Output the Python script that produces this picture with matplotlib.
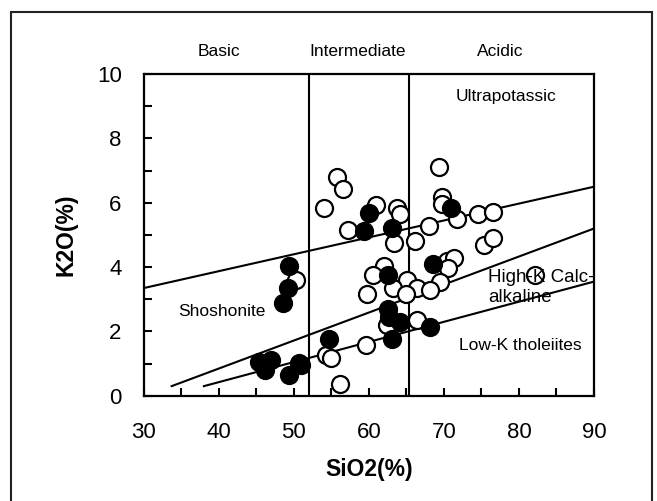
import matplotlib.pyplot as plt
from matplotlib.patches import Rectangle
from matplotlib.ticker import MultipleLocator

plt.rcParams['font.family'] = ['Liberation Sans', 'DejaVu Sans']

# filled (black) samples
filled_sio2 = [49.4, 49.2, 48.5, 45.4, 47.0, 46.1, 49.4, 50.7, 46.3, 50.9,
               54.7, 60.0, 59.3, 63.1, 70.9, 68.6, 62.5, 62.6, 62.7, 64.2,
               68.2, 63.1]
filled_k2o = [4.03, 3.34, 2.87, 1.06, 1.11, 0.80, 0.64, 1.01, 1.00, 0.95,
              1.78, 5.69, 5.12, 5.23, 5.83, 4.09, 3.75, 2.69, 2.46, 2.30,
              2.15, 1.78]

# open samples
open_sio2 = [50.3, 54.0, 55.7, 56.6, 61.0, 57.2, 63.8, 64.2, 63.4, 66.1,
             68.0, 69.4, 69.8, 69.8, 71.7, 74.5, 76.6, 75.4, 76.6, 70.4,
             71.4, 70.6, 69.5, 62.0, 60.5, 65.1, 63.2, 59.8, 66.4, 64.9,
             68.2, 62.4, 66.4, 59.6, 54.3, 54.9, 56.2, 82.2]
open_k2o = [3.60, 5.83, 6.79, 6.43, 5.93, 5.17, 5.83, 5.65, 4.74, 4.82,
            5.28, 7.12, 6.19, 5.96, 5.49, 5.65, 5.72, 4.68, 4.92, 4.20,
            4.27, 3.96, 3.54, 4.03, 3.75, 3.60, 3.34, 3.18, 3.34, 3.18,
            3.29, 2.20, 2.35, 1.58, 1.27, 1.16, 0.36, 3.75]

# series boundaries (SiO2, K2O end points)
shosh_line = ([30, 90], [3.35, 6.5])
highk_line = ([33.7, 90], [0.3, 5.2])
lowk_line = ([38.0, 90], [0.3, 3.55])
class_bounds = [52, 65.3]

fig = plt.figure(figsize=(6.57, 5.01), dpi=100)
ax = fig.add_axes([0.219, 0.210, 0.685, 0.642])

for xs, ys in (shosh_line, highk_line, lowk_line):
    ax.plot(xs, ys, color='black', lw=1.5, zorder=2)
for b in class_bounds:
    ax.axvline(b, color='black', lw=1.5, zorder=2)

ax.scatter(open_sio2, open_k2o, s=150, facecolor='white', edgecolor='black',
           linewidth=1.6, zorder=3)
ax.scatter(filled_sio2, filled_k2o, s=150, facecolor='black', edgecolor='black',
           linewidth=1.6, zorder=4)

ax.set_xlim(30, 90)
ax.set_ylim(0, 10)
ax.xaxis.set_major_locator(MultipleLocator(10))
ax.xaxis.set_minor_locator(MultipleLocator(5))
ax.yaxis.set_major_locator(MultipleLocator(2))
ax.yaxis.set_minor_locator(MultipleLocator(1))
ax.tick_params(which='both', direction='in', length=6, width=1.5,
               labelsize=16)
ax.tick_params(axis='x', which='both', pad=19)
ax.tick_params(axis='y', which='both', pad=16)
for sp in ax.spines.values():
    sp.set_linewidth(1.6)

ax.set_xlabel('SiO2(%)', fontsize=16.5, fontweight='bold', labelpad=11)
ax.set_ylabel('K2O(%)', fontsize=16.5, fontweight='bold', labelpad=14)

ax.text(40, 10.7, 'Basic', ha='center', va='center', fontsize=12.5)
ax.text(58.5, 10.7, 'Intermediate', ha='center', va='center', fontsize=12.5)
ax.text(77.5, 10.7, 'Acidic', ha='center', va='center', fontsize=12.5)
ax.text(78.3, 9.3, 'Ultrapotassic', ha='center', va='center', fontsize=12.5)
ax.text(40.4, 2.63, 'Shoshonite', ha='center', va='center', fontsize=12.5)
ax.text(75.9, 3.36, 'High-K Calc-\nalkaline', ha='left', va='center',
        fontsize=13.5, linespacing=1.25, zorder=5, clip_on=False)
ax.text(72.0, 1.57, 'Low-K tholeiites', ha='left', va='center', fontsize=12.5)

fig.patches.append(Rectangle((0.016, -0.05), 0.976, 1.026,
                             transform=fig.transFigure, fill=False,
                             edgecolor='#222222', lw=1.5))

fig.savefig('out.png', dpi=100)
